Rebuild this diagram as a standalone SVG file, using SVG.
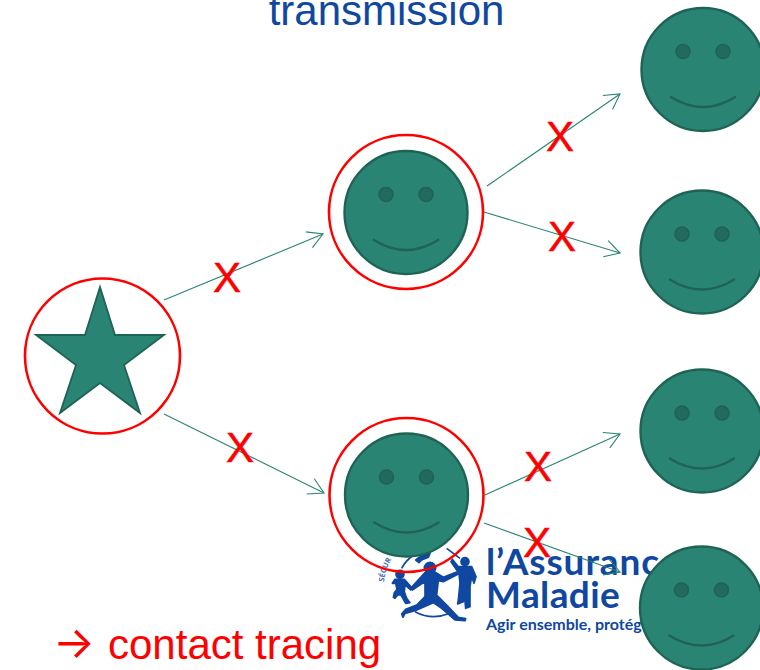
<svg xmlns="http://www.w3.org/2000/svg" width="760" height="670" viewBox="0 0 760 670">
<style>
.face{fill:#2a8473;stroke:#1f6355;stroke-width:2.4}
.eye{fill:#226a5d;stroke:#1f6355;stroke-width:1.5}
.smile{fill:none;stroke:#1f6355;stroke-width:2.4}
.ring{fill:none;stroke:#fe0000;stroke-width:2.6}
.edge{fill:none;stroke:#2a8473;stroke-width:1.1;marker-end:url(#a)}
.x{font:42px "Liberation Sans",Arial,sans-serif;fill:#fe0000;stroke:#fe0000;stroke-width:.5;text-anchor:middle}
.logo{fill:#0f47a1;font-family:Lato,"Noto Sans",sans-serif;font-weight:700}
</style>
<defs>
<marker id="a" markerUnits="userSpaceOnUse" markerWidth="26" markerHeight="26" refX="22" refY="12" orient="auto"><path d="M7 3.500 22 12 7 20.500" fill="none" stroke="#2a8473" stroke-width="1.1"/></marker>
<path id="sec" d="M384 582A50 50 0 0 1 394 556"/>
<g id="smiley"><circle class="face" r="61.500"/><circle class="eye" cx="-20" cy="-18" r="7"/><circle class="eye" cx="20" cy="-18" r="7"/><path class="smile" d="M-33 27Q0 48 33 27"/></g>
</defs>
<text x="386.500" y="24.500" font-family="'Liberation Sans',Arial,sans-serif" font-size="42" fill="#0f47a1" text-anchor="middle">transmission</text>
<g id="logo">
<g transform="translate(375 540) scale(.3333)" fill="#0f47a1" stroke="#0f47a1" stroke-width="5" stroke-linejoin="round">
<circle cx="165" cy="84" r="17"/><path d="M150 98 178 95 205 112 245 96 250 102 205 125 190 122 185 165 215 195 250 232 272 236 270 242 240 240 200 205 175 188 120 212 90 220 84 232 80 222 92 208 125 195 150 170 150 125 112 150 107 145Z"/>
<circle cx="75" cy="103" r="12"/><path d="M60 118 88 118 112 145 107 150 90 135 88 155 95 175 105 188 92 190 78 165 68 165 60 175 55 172 58 158 66 148 62 130 52 130Z"/>
<circle cx="270" cy="65" r="12"/><path d="M250 80 290 80 303 110 297 130 290 110 285 140 285 200 272 205 268 160 265 185 248 192 250 180 255 130 252 100 228 65 232 58Z"/>
<path d="M122 60 140 46 165 40 160 52 140 60 132 68Z"/>
<path d="M80 85A105 105 0 0 1 112 48M215 25 255 55M120 215Q170 242 225 220" fill="none"/>
</g>
<text font-family="'Noto Sans',sans-serif" font-size="7.500" font-weight="700" fill="#3f6db5"><textPath href="#sec">SÉCUR</textPath></text>
<text class="logo" x="486" y="575" font-size="37" letter-spacing=".9">l’Assurance</text>
<text class="logo" x="486" y="608" font-size="37" letter-spacing=".4">Maladie</text>
<text class="logo" x="486" y="630" font-size="16">Agir ensemble, protégeons</text>
</g>
<g id="connectors">
<path class="edge" d="M164 300 323 234"/>
<path class="edge" d="M164 414 324 493"/>
<path class="edge" d="M487 186 620 94"/>
<path class="edge" d="M484 212 620 253"/>
<path class="edge" d="M485 495 620 434"/>
<path class="edge" d="M484 523 620 572"/>
</g>
<g id="star-node"><circle class="ring" cx="102.500" cy="356" r="77.500"/><path class="face" style="stroke-width:1.800" d="M100 287 115 335 164 335 124 365 140 413 100 383 60 413 76 365 36 335 85 335Z"/></g>
<g id="node-mid-top"><use href="#smiley" x="406" y="212.500"/><circle class="ring" cx="406" cy="212" r="77"/></g>
<g id="node-mid-bottom"><use href="#smiley" x="406.500" y="495"/><circle class="ring" cx="406.500" cy="495" r="77"/></g>
<g id="node-r1"><use href="#smiley" x="703" y="69.500"/></g>
<g id="node-r2"><use href="#smiley" x="702" y="252"/></g>
<g id="node-r3"><use href="#smiley" x="702" y="431"/></g>
<g id="node-r4"><use href="#smiley" x="701.500" y="608"/></g>
<g id="crosses">
<text class="x" x="227" y="292">X</text>
<text class="x" x="240" y="462">X</text>
<text class="x" x="560" y="151">X</text>
<text class="x" x="562" y="251">X</text>
<text class="x" x="538" y="481">X</text>
<text class="x" x="537" y="557">X</text>
</g>
<text x="53" y="658" font-family="Inter,sans-serif" font-size="44" fill="#fe0000">→</text>
<text x="108" y="659" font-family="'Liberation Sans',Arial,sans-serif" font-size="42" fill="#fe0000">contact tracing</text>
</svg>
